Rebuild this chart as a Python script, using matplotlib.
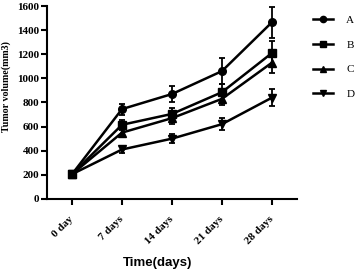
import numpy as np
import matplotlib.pyplot as plt
from matplotlib.lines import Line2D

days = ["0 day", "7 days", "14 days", "21 days", "28 days"]
groups = ["A", "B", "C", "D"]
markers = ["o", "s", "^", "v"]

vol_a = [205, 745, 870, 1060, 1465]
vol_b = [205, 615, 705, 885, 1210]
vol_c = [205, 550, 670, 830, 1130]
vol_d = [205, 410, 500, 620, 840]

err_a = [15, 45, 65, 110, 130]
err_b = [15, 40, 50, 65, 100]
err_c = [15, 40, 50, 55, 85]
err_d = [15, 30, 40, 50, 70]

values = [vol_a, vol_b, vol_c, vol_d]
errors = [err_a, err_b, err_c, err_d]

serif = "Liberation Serif"

fig = plt.figure(figsize=(3.59, 2.74), dpi=100)
ax = fig.add_axes([0.131, 0.274, 0.696, 0.704])

x = np.arange(len(days))
handles = []
for name, mk, v, e in zip(groups, markers, values, errors):
    ax.errorbar(
        x, v, yerr=e,
        color="black", marker=mk, markersize=5.5, linewidth=1.8,
        elinewidth=1.3, capsize=2.5, capthick=1.3
    )
    handles.append(Line2D([], [], color="black", marker=mk,
                          markersize=4.5, linewidth=1.8))

ax.set_xlim(-0.5, 4.5)
ax.set_ylim(0, 1600)
ax.set_yticks(np.arange(0, 1601, 200))
ax.set_xticks(x)
ax.set_xticklabels(days, rotation=45, ha="right", va="center",
                   rotation_mode="anchor")

for sp in ["top", "right"]:
    ax.spines[sp].set_visible(False)
for sp in ["left", "bottom"]:
    ax.spines[sp].set_linewidth(1.5)
ax.tick_params(axis="y", direction="out", length=4, width=1.5, pad=1.5)
ax.tick_params(axis="x", direction="out", length=4.3, width=1.5, pad=9)

for lab in ax.get_xticklabels() + ax.get_yticklabels():
    lab.set_fontfamily(serif)
    lab.set_fontweight("bold")
    lab.set_fontsize(8)

ax.set_ylabel("Tumor volume(mm3)", fontfamily=serif, fontweight="bold",
              fontsize=7.2, va="center")
ax.yaxis.set_label_coords(-0.164, 0.585)
ax.set_xlabel("Time(days)", fontfamily="Liberation Sans", fontsize=9.5,
              fontweight="bold", va="center")
ax.xaxis.set_label_coords(0.442, -0.33)

fig.legend(
    handles=handles, labels=groups, loc="upper left",
    bbox_to_anchor=(313 / 359, 0.945), frameon=False,
    borderpad=0, borderaxespad=0,
    handlelength=1.8, labelspacing=1.35, handletextpad=1.2,
    prop={"family": serif, "size": 8}
)

fig.savefig("out.png", dpi=100)
